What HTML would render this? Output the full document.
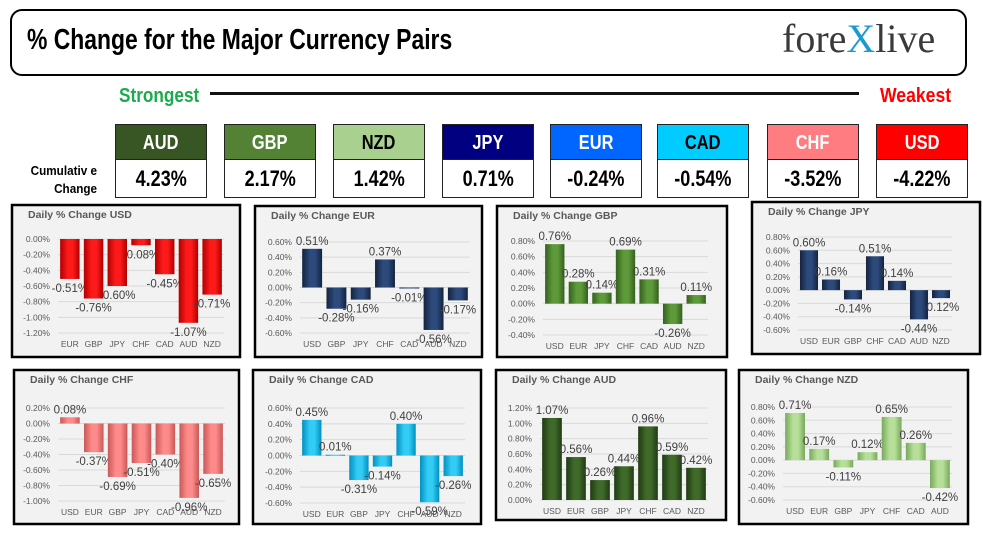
<!DOCTYPE html>
<html><head><meta charset="utf-8">
<style>
body{margin:0;background:#fff;width:983px;height:539px;overflow:hidden;position:relative;font-family:"Liberation Sans",sans-serif}
.narrow{font-family:"Liberation Sans Narrow","Liberation Sans",sans-serif;font-weight:bold}
.box{position:absolute;width:90px;border:1px solid #222;text-align:center}
.hd{height:34px;line-height:36px;font-size:20px;color:#fff;border-bottom:1px solid #222}
.vl{height:37px;line-height:38px;font-size:22px;color:#000;background:#fff}
.sq{display:inline-block;transform:scaleX(0.82)}
</style></head><body>
<div style="position:absolute;left:10px;top:9px;width:953px;height:63px;border:2px solid #000;border-radius:12px"></div>
<div class="narrow" style="position:absolute;left:27px;top:24px;font-size:29px;white-space:nowrap;transform:scaleX(0.79);transform-origin:left">% Change for the Major Currency Pairs</div>
<div style="position:absolute;left:782px;top:15px;font-family:'Liberation Serif',serif;font-size:40px;color:#3a3a3a;white-space:nowrap">fore<span style="color:#1a9bd0">X</span>live</div>
<div class="narrow" style="position:absolute;left:119px;top:85px;font-size:20px;color:#1aab4b;transform:scaleX(0.86);transform-origin:left">Strongest</div>
<div style="position:absolute;left:210px;top:92px;width:649px;height:3px;background:#111"></div>
<div class="narrow" style="position:absolute;left:880px;top:85px;font-size:20px;color:#f00;transform:scaleX(0.88);transform-origin:left">Weakest</div>
<div class="narrow" style="position:absolute;left:10px;top:162px;width:87px;text-align:right;font-size:13px;line-height:18px;transform:scaleX(0.9);transform-origin:right">Cumulativ e<br>Change</div>
<div id="boxes"></div>
<svg id="charts" width="983" height="539" style="position:absolute;left:0;top:0"></svg>
<script>
const strengthCur=["AUD","GBP","NZD","JPY","EUR","CAD","CHF","USD"];
const strengthVals=["4.23%","2.17%","1.42%","0.71%","-0.24%","-0.54%","-3.52%","-4.22%"];
const boxColors=["#375623","#548235","#a9d08e","#000080","#0066ff","#00ccff","#ff7c80","#ff0000"];
const boxText=["#fff","#fff","#000","#fff","#fff","#000","#fff","#fff"];
const boxX=[115,224,333,442,550,657,767,876];
const bc=document.getElementById('boxes');
strengthCur.forEach((c,i)=>{
 const d=document.createElement('div');d.className='box';
 
 
 d.style.left=boxX[i]+'px';d.style.top='124px';
 d.innerHTML='<div class="hd narrow" style="background:'+boxColors[i]+';color:'+boxText[i]+'"><span class="sq">'+c+'</span></div><div class="vl narrow"><span class="sq">'+strengthVals[i]+'</span></div>';
 bc.appendChild(d);
});

const usdCats=["EUR","GBP","JPY","CHF","CAD","AUD","NZD"];
const usdVals=[-0.51,-0.76,-0.60,-0.08,-0.45,-1.07,-0.71];
const usdTicks=[0,-0.2,-0.4,-0.6,-0.8,-1.0,-1.2];
const eurCats=["USD","GBP","JPY","CHF","CAD","AUD","NZD"];
const eurVals=[0.51,-0.28,-0.16,0.37,-0.01,-0.56,-0.17];
const eurTicks=[0.6,0.4,0.2,0,-0.2,-0.4,-0.6];
const gbpCats=["USD","EUR","JPY","CHF","CAD","AUD","NZD"];
const gbpVals=[0.76,0.28,0.14,0.69,0.31,-0.26,0.11];
const gbpTicks=[0.8,0.6,0.4,0.2,0,-0.2,-0.4];
const jpyCats=["USD","EUR","GBP","CHF","CAD","AUD","NZD"];
const jpyVals=[0.60,0.16,-0.14,0.51,0.14,-0.44,-0.12];
const jpyTicks=[0.8,0.6,0.4,0.2,0,-0.2,-0.4,-0.6];
const chfCats=["USD","EUR","GBP","JPY","CAD","AUD","NZD"];
const chfVals=[0.08,-0.37,-0.69,-0.51,-0.40,-0.96,-0.65];
const chfTicks=[0.2,0,-0.2,-0.4,-0.6,-0.8,-1.0];
const cadCats=["USD","EUR","GBP","JPY","CHF","AUD","NZD"];
const cadVals=[0.45,0.01,-0.31,-0.14,0.40,-0.59,-0.26];
const cadTicks=[0.6,0.4,0.2,0,-0.2,-0.4,-0.6];
const audCats=["USD","EUR","GBP","JPY","CHF","CAD","NZD"];
const audVals=[1.07,0.56,0.26,0.44,0.96,0.59,0.42];
const audTicks=[1.2,1.0,0.8,0.6,0.4,0.2,0];
const nzdCats=["USD","EUR","GBP","JPY","CHF","CAD","AUD"];
const nzdVals=[0.71,0.17,-0.11,0.12,0.65,0.26,-0.42];
const nzdTicks=[0.8,0.6,0.4,0.2,0,-0.2,-0.4,-0.6];

const NS='http://www.w3.org/2000/svg';
const svg=document.getElementById('charts');
function el(t,a,p){const e=document.createElementNS(NS,t);for(const k in a)e.setAttribute(k,a[k]);(p||svg).appendChild(e);return e;}
const defs=el('defs',{});
function grad(id,c,dark){const g=el('linearGradient',{id:id,x1:0,x2:1,y1:0,y2:0},defs);
 el('stop',{offset:'0%','stop-color':dark},g);el('stop',{offset:'40%','stop-color':c},g);el('stop',{offset:'65%','stop-color':c},g);el('stop',{offset:'100%','stop-color':dark},g);}
grad('gUSD','#ff1a1a','#b00000');grad('gEUR','#2c4a7c','#14233f');grad('gGBP','#5e9a3a','#35601e');
grad('gJPY','#2c4a7c','#14233f');grad('gCHF','#ff8a8a','#c85858');grad('gCAD','#33ccf5','#0090c0');
grad('gAUD','#3f6a2a','#1e3a12');grad('gNZD','#b6e09a','#78a85a');

const panels=[
 {name:'USD',cats:usdCats,vals:usdVals,ticks:usdTicks,px:11,py:204,pw:230,ph:154,gx0:58,gx1:224,top:239,bot:333},
 {name:'EUR',cats:eurCats,vals:eurVals,ticks:eurTicks,px:254,py:205,pw:229,ph:153,gx0:300,gx1:470,top:242,bot:333},
 {name:'GBP',cats:gbpCats,vals:gbpVals,ticks:gbpTicks,px:496,py:205,pw:232,ph:153,gx0:543,gx1:708,top:241,bot:335},
 {name:'JPY',cats:jpyCats,vals:jpyVals,ticks:jpyTicks,px:751,py:201,pw:230,ph:154,gx0:798,gx1:952,top:237,bot:330},
 {name:'CHF',cats:chfCats,vals:chfVals,ticks:chfTicks,px:13,py:369,pw:227,ph:156,gx0:58,gx1:225,top:408,bot:501},
 {name:'CAD',cats:cadCats,vals:cadVals,ticks:cadTicks,px:252,py:369,pw:230,ph:156,gx0:300,gx1:465,top:408,bot:503},
 {name:'AUD',cats:audCats,vals:audVals,ticks:audTicks,px:495,py:369,pw:232,ph:152,gx0:540,gx1:708,top:408,bot:500},
 {name:'NZD',cats:nzdCats,vals:nzdVals,ticks:nzdTicks,px:738,py:369,pw:231,ph:156,gx0:783,gx1:952,top:407,bot:500}
];
panels.forEach(p=>{
 const g=el('g',{});
 
 
 const r=el('rect',{x:p.px+1,y:p.py+1,width:p.pw-2,height:p.ph-2,fill:'#f2f2f2',stroke:'#000','stroke-width':2.5},g);
 
 
 const t=el('text',{x:p.px+17,y:p.py+14,'font-size':'10.5','font-weight':'bold',fill:'#595959','font-family':'Liberation Sans, sans-serif'},g);
 t.textContent='Daily % Change '+p.name;
 
 
 const tmax=p.ticks[0],tmin=p.ticks[p.ticks.length-1];
 const y=v=>p.top+(tmax-v)/(tmax-tmin)*(p.bot-p.top);
 p.ticks.forEach(v=>{
  el('line',{x1:p.gx0,x2:p.gx1,y1:y(v),y2:y(v),stroke:'#d9d9d9','stroke-width':1},g);
  const tl=el('text',{x:p.gx0-8,y:y(v)+3,'font-size':'8.5',fill:'#595959','text-anchor':'end','font-family':'Liberation Sans, sans-serif'},g);
  tl.textContent=v.toFixed(2)+'%';
  
  
 });
 const n=p.cats.length,cw=(p.gx1-p.gx0)/n,bw=cw*0.82;
 p.cats.forEach((c,i)=>{
  const cx=p.gx0+cw*(i+0.5),v=p.vals[i],y0=y(0),yv=y(v);
  const b=el('rect',{x:cx-bw/2,y:Math.min(y0,yv),width:bw,height:Math.max(1,Math.abs(yv-y0)),fill:'url(#g'+p.name+')'},g);
  
  
  const cl=el('text',{x:cx,y:p.bot+14,'font-size':'8.5',fill:'#595959','text-anchor':'middle','font-family':'Liberation Sans, sans-serif'},g);
  cl.textContent=c;
  
  
  const vl=el('text',{x:cx,y:v>=0?yv-4:yv+13,'font-size':'11.5',fill:'#404040','text-anchor':'middle','font-family':'Liberation Sans, sans-serif'},g);
  vl.textContent=v.toFixed(2)+'%';
  
  
 });
});
</script>
</body></html>
